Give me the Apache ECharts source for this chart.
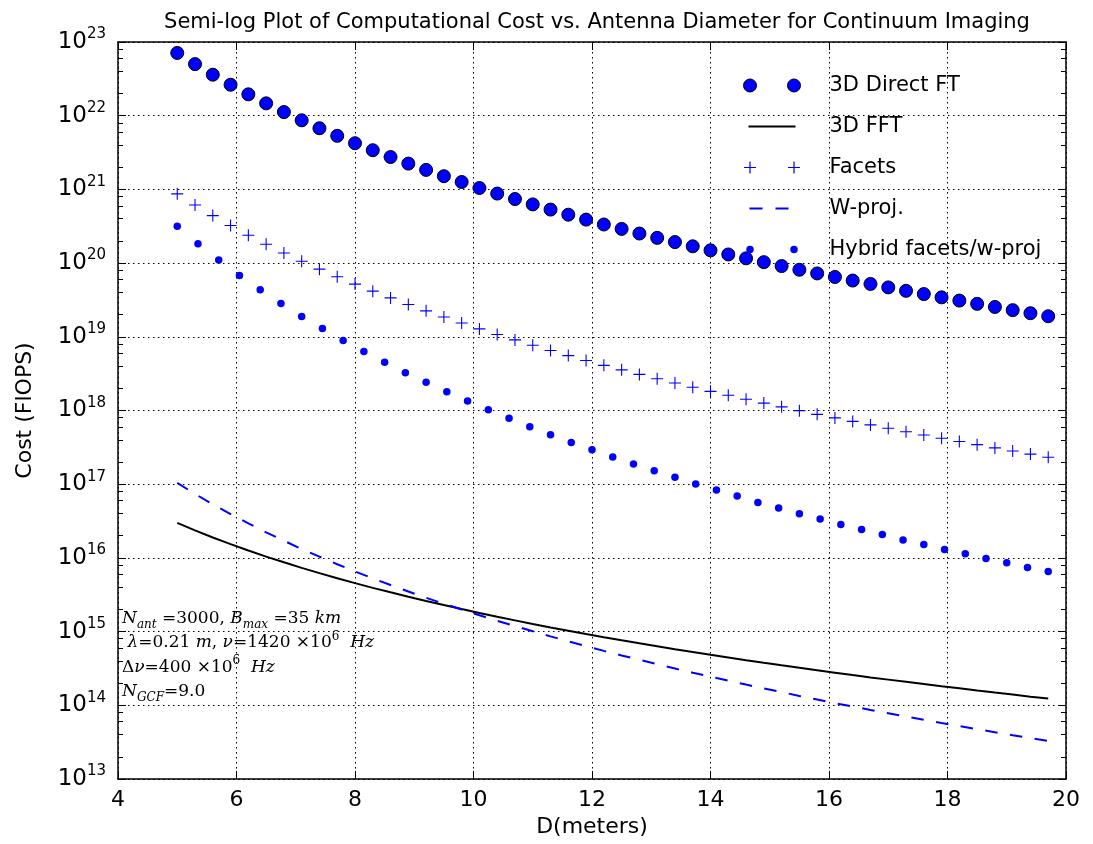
<!DOCTYPE html>
<html>
<head>
<meta charset="utf-8">
<script src="https://cdn.jsdelivr.net/npm/echarts@6/dist/echarts.min.js"></script>
<style>
  html, body { margin: 0; padding: 0; background: #fff; }
  #chart { width: 1093px; height: 844px; }
</style>
</head>
<body>
<div id="chart"></div>
<script>
// antenna diameters (m)
var dGrid = [5.0, 5.3, 5.6, 5.9, 6.2, 6.5, 6.8, 7.1, 7.4, 7.7, 8.0, 8.3, 8.6, 8.9, 9.2, 9.5, 9.8, 10.1, 10.4, 10.7,
    11.0, 11.3, 11.6, 11.9, 12.2, 12.5, 12.8, 13.1, 13.4, 13.7, 14.0, 14.3, 14.6, 14.9, 15.2, 15.5, 15.8, 16.1, 16.4, 16.7,
    17.0, 17.3, 17.6, 17.9, 18.2, 18.5, 18.8, 19.1, 19.4, 19.7];
var dHybrid = [5.00, 5.35, 5.70, 6.05, 6.40, 6.75, 7.10, 7.45, 7.80, 8.15, 8.50, 8.85, 9.20, 9.55, 9.90, 10.25, 10.60,
    10.95, 11.30, 11.65, 12.00, 12.35, 12.70, 13.05, 13.40, 13.75, 14.10, 14.45, 14.80, 15.15, 15.50, 15.85, 16.20,
    16.55, 16.90, 17.25, 17.60, 17.95, 18.30, 18.65, 19.00, 19.35, 19.70];

// cost (FlOPS)
var directFT = [7.10e22, 5.01e22, 3.60e22, 2.63e22, 1.95e22, 1.47e22, 1.12e22, 8.66e21, 6.76e21, 5.33e21,
    4.23e21, 3.40e21, 2.75e21, 2.24e21, 1.84e21, 1.51e21, 1.26e21, 1.045e21, 8.78e20, 7.40e20,
    6.26e20, 5.32e20, 4.54e20, 3.89e20, 3.34e20, 2.91e20, 2.52e20, 2.20e20, 1.93e20, 1.69e20,
    1.49e20, 1.31e20, 1.16e20, 1.03e20, 9.12e19, 8.12e19, 7.24e19, 6.48e19, 5.80e19, 5.21e19,
    4.68e19, 4.21e19, 3.80e19, 3.43e19, 3.10e19, 2.80e19, 2.54e19, 2.30e19, 2.09e19, 1.90e19];
var fft3d = [2.98e16, 2.36e16, 1.89e16, 1.54e16, 1.26e16, 1.04e16, 8.71e15, 7.33e15, 6.21e15, 5.30e15,
    4.55e15, 3.92e15, 3.41e15, 2.97e15, 2.60e15, 2.29e15, 2.02e15, 1.79e15, 1.59e15, 1.42e15,
    1.27e15, 1.14e15, 1.03e15, 9.29e14, 8.41e14, 7.63e14, 6.94e14, 6.33e14, 5.78e14, 5.29e14,
    4.85e14, 4.46e14, 4.10e14, 3.78e14, 3.49e14, 3.23e14, 2.99e14, 2.77e14, 2.57e14, 2.39e14,
    2.23e14, 2.08e14, 1.94e14, 1.81e14, 1.70e14, 1.59e14, 1.49e14, 1.40e14, 1.31e14, 1.24e14];
var facets = [8.70e20, 6.13e20, 4.41e20, 3.23e20, 2.39e20, 1.80e20, 1.37e20, 1.06e20, 8.28e19, 6.53e19,
    5.19e19, 4.16e19, 3.37e19, 2.74e19, 2.25e19, 1.86e19, 1.54e19, 1.28e19, 1.075e19, 9.07e18,
    7.67e18, 6.52e18, 5.56e18, 4.77e18, 4.10e18, 3.56e18, 3.09e18, 2.70e18, 2.36e18, 2.07e18,
    1.82e18, 1.61e18, 1.42e18, 1.26e18, 1.12e18, 9.95e17, 8.87e17, 7.93e17, 7.11e17, 6.38e17,
    5.73e17, 5.16e17, 4.65e17, 4.20e17, 3.79e17, 3.44e17, 3.11e17, 2.82e17, 2.56e17, 2.32e17];
var wproj = [1.04e17, 7.38e16, 5.34e16, 3.93e16, 2.94e16, 2.22e16, 1.71e16, 1.32e16, 1.04e16, 8.21e15,
    6.56e15, 5.28e15, 4.29e15, 3.50e15, 2.88e15, 2.39e15, 1.99e15, 1.67e15, 1.40e15, 1.19e15,
    1.01e15, 8.61e14, 7.38e14, 6.35e14, 5.48e14, 4.75e14, 4.14e14, 3.61e14, 3.16e14, 2.77e14,
    2.44e14, 2.16e14, 1.91e14, 1.69e14, 1.51e14, 1.34e14, 1.20e14, 1.07e14, 9.63e13, 8.65e13,
    7.80e13, 7.03e13, 6.36e13, 5.76e13, 5.22e13, 4.74e13, 4.31e13, 3.93e13, 3.59e13, 3.28e13];
var hybrid = [3.15e20, 1.83e20, 1.10e20, 6.80e19, 4.35e19, 2.84e19, 1.89e19, 1.30e19, 8.93e18, 6.34e18,
    4.50e18, 3.26e18, 2.41e18, 1.80e18, 1.35e18, 1.02e18, 7.82e17, 6.03e17, 4.70e17, 3.69e17,
    2.94e17, 2.34e17, 1.88e17, 1.52e17, 1.24e17, 1.01e17, 8.34e16, 6.92e16, 5.66e16, 4.75e16,
    3.98e16, 3.37e16, 2.85e16, 2.42e16, 2.07e16, 1.75e16, 1.52e16, 1.30e16, 1.14e16, 9.85e15,
    8.61e15, 7.43e15, 6.56e15];

var seriesNames = ['3D Direct FT', '3D FFT', 'Facets', 'W-proj.', 'Hybrid facets/w-proj'];
var yExponents = [13, 14, 15, 16, 17, 18, 19, 20, 21, 22, 23];
var minorSubs = [2, 4, 6, 8];

var BLUE = '#0000ff';
var plusPath = 'path://M0,10.9h24v2.2h-24zM10.9,0h2.2v24h-2.2z';

// minor tick spots, in decades (for a linear helper axis spanning 13..23)
var minorTicks = [];
yExponents.slice(0, -1).forEach(function (e) {
    minorSubs.forEach(function (s) { minorTicks.push(e + Math.log10(s)); });
});

function pairs(xs, ys) {
    return xs.map(function (x, i) { return [x, ys[i]]; });
}

var frame = { show: true, lineStyle: { color: '#000', width: 1.5 } };
var grid = { type: [1.5, 3.5], color: '#000', width: 1 };

function minorAxis(pos) {
    return {
        type: 'value', min: yExponents[0], max: yExponents[yExponents.length - 1], position: pos,
        axisLine: { show: false },
        axisTick: { show: true, inside: true, length: 5, customValues: minorTicks, lineStyle: { color: '#000' } },
        axisLabel: { show: false },
        splitLine: { show: false }
    };
}

var myChart = echarts.init(document.getElementById('chart'));
var option = {
    animation: false,
    backgroundColor: '#fff',
    title: {
        text: 'Semi-log Plot of Computational Cost vs. Antenna Diameter for Continuum Imaging',
        left: 592,
        top: 7,
        textAlign: 'center',
        textStyle: { fontFamily: 'DejaVu Sans', fontSize: 21, fontWeight: 'normal', color: '#000' }
    },
    grid: { left: 118, right: 27, top: 42, bottom: 65 },
    legend: {
        orient: 'vertical',
        left: 738,
        top: 70,
        itemWidth: 57,
        itemHeight: 13,
        itemGap: 20,
        selectedMode: false,
        symbolKeepAspect: true,
        textStyle: { fontFamily: 'DejaVu Sans', fontSize: 21, color: '#000', lineHeight: 21, padding: [0, 0, 0, 24] },
        data: [
            { name: seriesNames[0],
              icon: 'path://M0,0M57,13M0,6.5a6.5,6.5 0 1 0 13,0a6.5,6.5 0 1 0 -13,0zM44,6.5a6.5,6.5 0 1 0 13,0a6.5,6.5 0 1 0 -13,0z',
              itemStyle: { color: BLUE, borderColor: '#000', borderWidth: 1 } },
            { name: seriesNames[1],
              icon: 'path://M0,0M57,13M5,5.5h47v2h-47z',
              itemStyle: { color: '#000', borderWidth: 0 } },
            { name: seriesNames[2],
              icon: 'path://M0,0M57,13M0.5,5.9h12v1.2h-12zM5.9,0.5h1.2v12h-1.2zM44.5,5.9h12v1.2h-12zM49.9,0.5h1.2v12h-1.2z',
              itemStyle: { color: BLUE, borderWidth: 0 } },
            { name: seriesNames[3],
              icon: 'path://M0,0M57,13M6,5.5h13v2h-13zM32,5.5h13v2h-13z',
              itemStyle: { color: BLUE, borderWidth: 0 } },
            { name: seriesNames[4],
              icon: 'path://M0,0M57,13M2.75,6.5a3.75,3.75 0 1 0 7.5,0a3.75,3.75 0 1 0 -7.5,0zM46.75,6.5a3.75,3.75 0 1 0 7.5,0a3.75,3.75 0 1 0 -7.5,0z',
              itemStyle: { color: BLUE, borderWidth: 0 } }
        ]
    },
    xAxis: [
        {
            type: 'value', position: 'bottom', min: 4, max: 20, interval: 2,
            name: 'D(meters)', nameLocation: 'middle', nameGap: 36,
            nameTextStyle: { fontFamily: 'DejaVu Sans', fontSize: 22, color: '#000' },
            axisLine: frame,
            axisTick: { show: true, inside: true, length: 8, lineStyle: { color: '#000' } },
            axisLabel: { fontFamily: 'DejaVu Sans', fontSize: 22, color: '#000', margin: 10 },
            splitLine: { show: true, lineStyle: grid }
        },
        {
            type: 'value', position: 'top', min: 4, max: 20, interval: 2,
            axisLine: frame,
            axisTick: { show: true, inside: true, length: 8, lineStyle: { color: '#000' } },
            axisLabel: { show: false },
            splitLine: { show: false }
        }
    ],
    yAxis: [
        {
            type: 'log', logBase: 10, min: 1e13, max: 1e23, splitNumber: 10, position: 'left',
            name: 'Cost (FlOPS)', nameLocation: 'middle', nameGap: 82, nameRotate: 90,
            nameTextStyle: { fontFamily: 'DejaVu Sans', fontSize: 22, color: '#000' },
            axisLine: frame,
            axisTick: { show: true, inside: true, length: 8, lineStyle: { color: '#000' } },
            axisLabel: {
                margin: 12,
                formatter: function (v) {
                    return '{b|10}{s|' + Math.round(Math.log10(v)) + '}';
                },
                rich: {
                    b: { fontFamily: 'DejaVu Sans', fontSize: 23, color: '#000', lineHeight: 30 },
                    s: { fontFamily: 'DejaVu Sans', fontSize: 15, color: '#000', lineHeight: 15, verticalAlign: 'top' }
                }
            },
            splitLine: { show: true, lineStyle: grid }
        },
        minorAxis('left'),
        {
            type: 'log', logBase: 10, min: 1e13, max: 1e23, splitNumber: 10, position: 'right',
            axisLine: frame,
            axisTick: { show: true, inside: true, length: 8, lineStyle: { color: '#000' } },
            axisLabel: { show: false },
            splitLine: { show: false }
        },
        minorAxis('right')
    ],
    series: [
        {
            name: seriesNames[0], type: 'scatter', symbol: 'circle', symbolSize: 13,
            itemStyle: { color: BLUE, borderColor: '#000', borderWidth: 1, opacity: 1 },
            data: pairs(dGrid, directFT), z: 3
        },
        {
            name: seriesNames[1], type: 'line', showSymbol: false, symbol: 'none',
            color: '#000', itemStyle: { color: '#000', borderWidth: 0 },
            lineStyle: { color: '#000', width: 2 },
            data: pairs(dGrid, fft3d), z: 4
        },
        {
            name: seriesNames[2], type: 'scatter', symbol: plusPath, symbolSize: 12,
            itemStyle: { color: BLUE, opacity: 1 },
            data: pairs(dGrid, facets), z: 5
        },
        {
            name: seriesNames[3], type: 'line', showSymbol: false, symbol: 'none',
            color: BLUE, itemStyle: { color: BLUE, borderWidth: 0 },
            lineStyle: { color: BLUE, width: 2, type: [12.5, 12.5], cap: 'butt' },
            data: pairs(dGrid, wproj), z: 6
        },
        {
            name: seriesNames[4], type: 'scatter', symbol: 'circle', symbolSize: 7.5,
            itemStyle: { color: BLUE, opacity: 1 },
            data: pairs(dHybrid, hybrid), z: 7
        }
    ],
    graphic: [
        {
            type: 'text', left: 122, top: 610, z: 20,
            style: {
                text: '{i|N}{sb|ant}{n| =3000, }{i|B}{sb|max}{n| =35 }{i|km}\n' +
                      '{n| }{i|λ}{n|=0.21 }{i|m}{n|, }{i|ν}{n|=1420 ×10}{sp|6}{n|  }{i|Hz}\n' +
                      '{n|Δ}{i|ν}{n|=400 ×10}{sp|6}{n|  }{i|Hz}\n' +
                      '{i|N}{sb|GCF}{n|=9.0}',
                fill: '#000',
                rich: {
                    n: { fontFamily: 'DejaVu Serif', fontSize: 17, lineHeight: 24.5, fill: '#000' },
                    i: { fontFamily: 'DejaVu Serif', fontStyle: 'italic', fontSize: 17, lineHeight: 24.5, fill: '#000' },
                    sb: { fontFamily: 'DejaVu Serif', fontStyle: 'italic', fontSize: 12, lineHeight: 13, verticalAlign: 'bottom', fill: '#000' },
                    sp: { fontFamily: 'DejaVu Serif', fontSize: 12, lineHeight: 13, verticalAlign: 'top', fill: '#000' }
                }
            }
        }
    ]
};
myChart.setOption(option);
</script>
</body>
</html>
